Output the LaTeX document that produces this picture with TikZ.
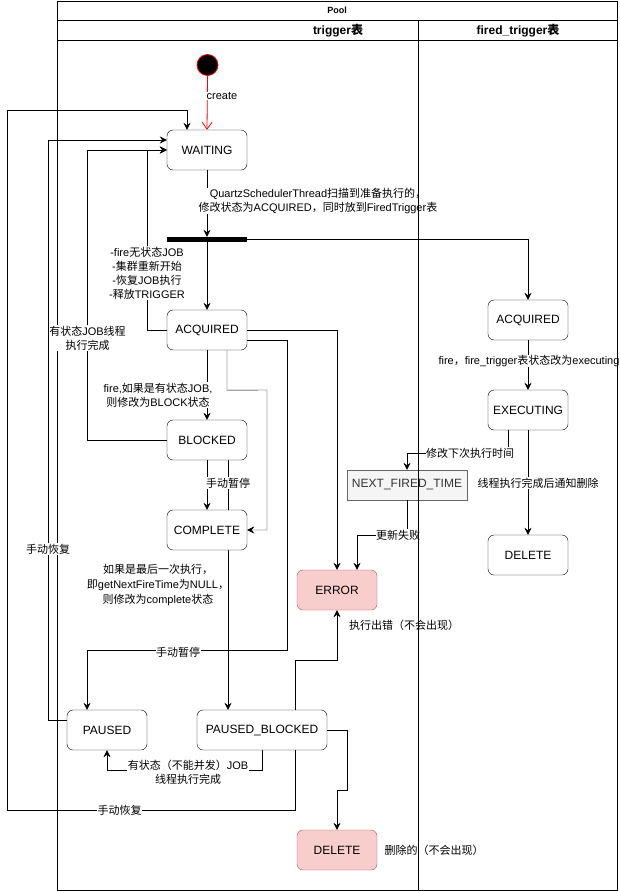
\documentclass[tikz,border=0pt]{standalone}
\usepackage{fontspec}
\setmainfont{Liberation Sans}
\newfontfamily\cjk{Noto Sans CJK SC}
\newcommand{\zh}[1]{{\cjk #1}}
\usetikzlibrary{arrows.meta,calc}
\definecolor{errfill}{HTML}{F8CECC}
\definecolor{errdraw}{HTML}{B85450}
\definecolor{nextfill}{HTML}{F5F5F5}
\definecolor{nextdraw}{HTML}{666666}
\definecolor{nexttext}{HTML}{333333}
\pgfdeclarelayer{bg}\pgfdeclarelayer{fg}\pgfsetlayers{bg,main,fg}
\begin{document}
\begin{tikzpicture}[x=1pt,y=-1pt, line width=1pt,
  >={Stealth[length=7pt,width=7pt,inset=2.5pt]},
  state/.style={draw, rounded corners=6pt, minimum width=80pt, minimum height=40pt, fill=white, font=\fontsize{12}{14}\selectfont, inner sep=2pt},
  errstate/.style={state, fill=errfill, draw=errdraw},
  lbl/.style={font=\fontsize{11}{14}\selectfont, fill=white, inner sep=0.5pt, align=center},
  plainlbl/.style={font=\fontsize{11}{15}\selectfont, inner sep=0.5pt, align=center},
  hdr/.style={font=\bfseries\fontsize{12}{14}\selectfont, inner sep=0pt}]
\useasboundingbox (0,0) rectangle (620,891);

% pool frame and trigger lane
\begin{pgfonlayer}{bg}
\draw (57,1) rectangle (617,890);
\draw (57,20) -- (617,20);
\draw (57,40) -- (418,40);
\end{pgfonlayer}
\node[font=\bfseries\fontsize{9}{10}\selectfont, inner sep=0pt] (pooltitle) at (337,10.5) {Pool};
\node[hdr] (lane1title) at (338,30.5) {trigger\zh{表}};
\node[hdr] (lane2title) at (518,30.5) {fired\_trigger\zh{表}};

% nodes
\node[circle, fill=black, draw=red, line width=0.8pt, minimum size=21pt, inner sep=0pt] (start) at (207.5,65) {};
\node[state] (wait) at (207,150) {WAITING};
\node[rectangle, fill=black, minimum width=80pt, minimum height=5pt, inner sep=0pt] (bar) at (207,239.5) {};
\node[state] (acq) at (207,330) {ACQUIRED};
\node[state] (blk) at (207,440) {BLOCKED};
\node[state] (comp) at (207,530) {COMPLETE};
\node[errstate] (err) at (337,590) {ERROR};
\node[state] (paused) at (107,730) {PAUSED};
\node[state, minimum width=130pt] (pb) at (262,730) {PAUSED\_BLOCKED};
\node[errstate] (del) at (337,850) {DELETE};
\node[state] (acq2) at (528,320) {ACQUIRED};
\node[state] (exe) at (528,410) {EXECUTING};
\node[state] (del2) at (528,555) {DELETE};
\node[draw=nextdraw, fill=nextfill, text=nexttext, minimum width=120pt, minimum height=30pt, inner sep=2pt, font=\fontsize{12}{14}\selectfont] (next) at (407,485) {NEXT\_FIRED\_TIME};

% edge hidden behind COMPLETE
\begin{pgfonlayer}{bg}
\draw[->] ([xshift=21pt]blk.south) -- ([xshift=-34pt]pb.north);
\end{pgfonlayer}

% edges
\draw[red, line width=0.8pt, -{Straight Barb[length=7pt,width=10pt]}] (start.south) -- (wait.north);
\draw[->] (wait) -- (bar);
\draw[->] (bar) -- (acq);
\draw[->] (bar.east) -| (acq2.north);
\draw[->] (acq2) -- (exe);
\draw[->] (exe) -- (del2);
\draw[->] ([xshift=-20pt]exe.south) -- ++(0,23) -| (next.north);
\draw[->] (next.south) -- (407,535) -| ([xshift=20pt]err.north);
\draw[->] (acq.east) -| (err.north);
\draw[->] ([yshift=-10pt]acq.east) -- (287,340) -- (287,650) -| ([xshift=-20pt]paused.north);
\draw[->] ([xshift=20pt]acq.south) -- ++(0,40) -- (267,390) |- (comp.east);
\draw[->] (acq) -- (blk);
\draw[->] (blk) -- (comp);
\draw[->] (blk.west) -- (87,440) |- (wait.west);
\draw[->] (acq.west) -- (147,330) |- (wait.west);
\draw[->] ([yshift=10pt]paused.west) -- (48,720) |- ([yshift=10pt]wait.west);
\draw[->] ([xshift=33pt]pb.south) -- (295,810) -- (7,810) -- (7,110) -| ([xshift=-20pt]wait.north);
\draw[->] ([xshift=33pt]pb.north) -- (295,660) -| (err.south);
\draw[->] (pb.south) -- (262,770) -| (paused.south);
\draw[->] (pb.east) -- (347,730) -- (347,790) -| (del.north);

% labels
\node[lbl, anchor=west] (lcreate) at (206,96) {create};
\node[lbl] (lscan) at (318,201) {QuartzSchedulerThread\zh{扫描到准备执行的，}\\\zh{修改状态为}ACQUIRED\zh{，同时放到}FiredTrigger\zh{表}};
\node[lbl] (lfireless) at (147,273) {-fire\zh{无状态}JOB\\-\zh{集群重新开始}\\-\zh{恢复}JOB\zh{执行}\\-\zh{释放}TRIGGER};
\node[lbl] (lstatejob) at (87.5,338) {\zh{有状态}JOB\zh{线程}\\\zh{执行完成}};
\node[lbl] (lblock) at (158,395) {fire,\zh{如果是有状态}JOB,\\\zh{则修改为}BLOCK\zh{状态}};
\node[lbl] (lpause1) at (228,483) {\zh{手动暂停}};
\node[plainlbl] (llast) at (158,585) {\zh{如果是最后一次执行，}\\\zh{即}getNextFireTime\zh{为}NULL\zh{，}\\\zh{则修改为}complete\zh{状态}};
\node[lbl] (lresume1) at (48,549) {\zh{手动恢复}};
\node[lbl] (lpause2) at (178,652) {\zh{手动暂停}};
\node[lbl] (lerr) at (404,625) {\zh{执行出错（不会出现）}};
\node[lbl] (lpbp) at (188,772) {\zh{有状态（不能并发）}JOB\\\zh{线程执行完成}};
\node[lbl] (lresume2) at (119.5,810) {\zh{手动恢复}};
\node[lbl] (ldel) at (434,850) {\zh{删除的（不会出现）}};
\node[lbl] (lfire) at (529,361) {fire\zh{，}fire\_trigger\zh{表状态改为}executing};
\node[lbl] (lmodify) at (470,453) {\zh{修改下次执行时间}};
\node[lbl] (lnotify) at (538,483) {\zh{线程执行完成后通知删除}};
\node[lbl] (lfail) at (398,535) {\zh{更新失败}};

% fired_trigger lane drawn on top
\begin{pgfonlayer}{fg}
\draw (418,20) rectangle (617,890);
\draw (418,40) -- (617,40);
\end{pgfonlayer}
\end{tikzpicture}
\end{document}
